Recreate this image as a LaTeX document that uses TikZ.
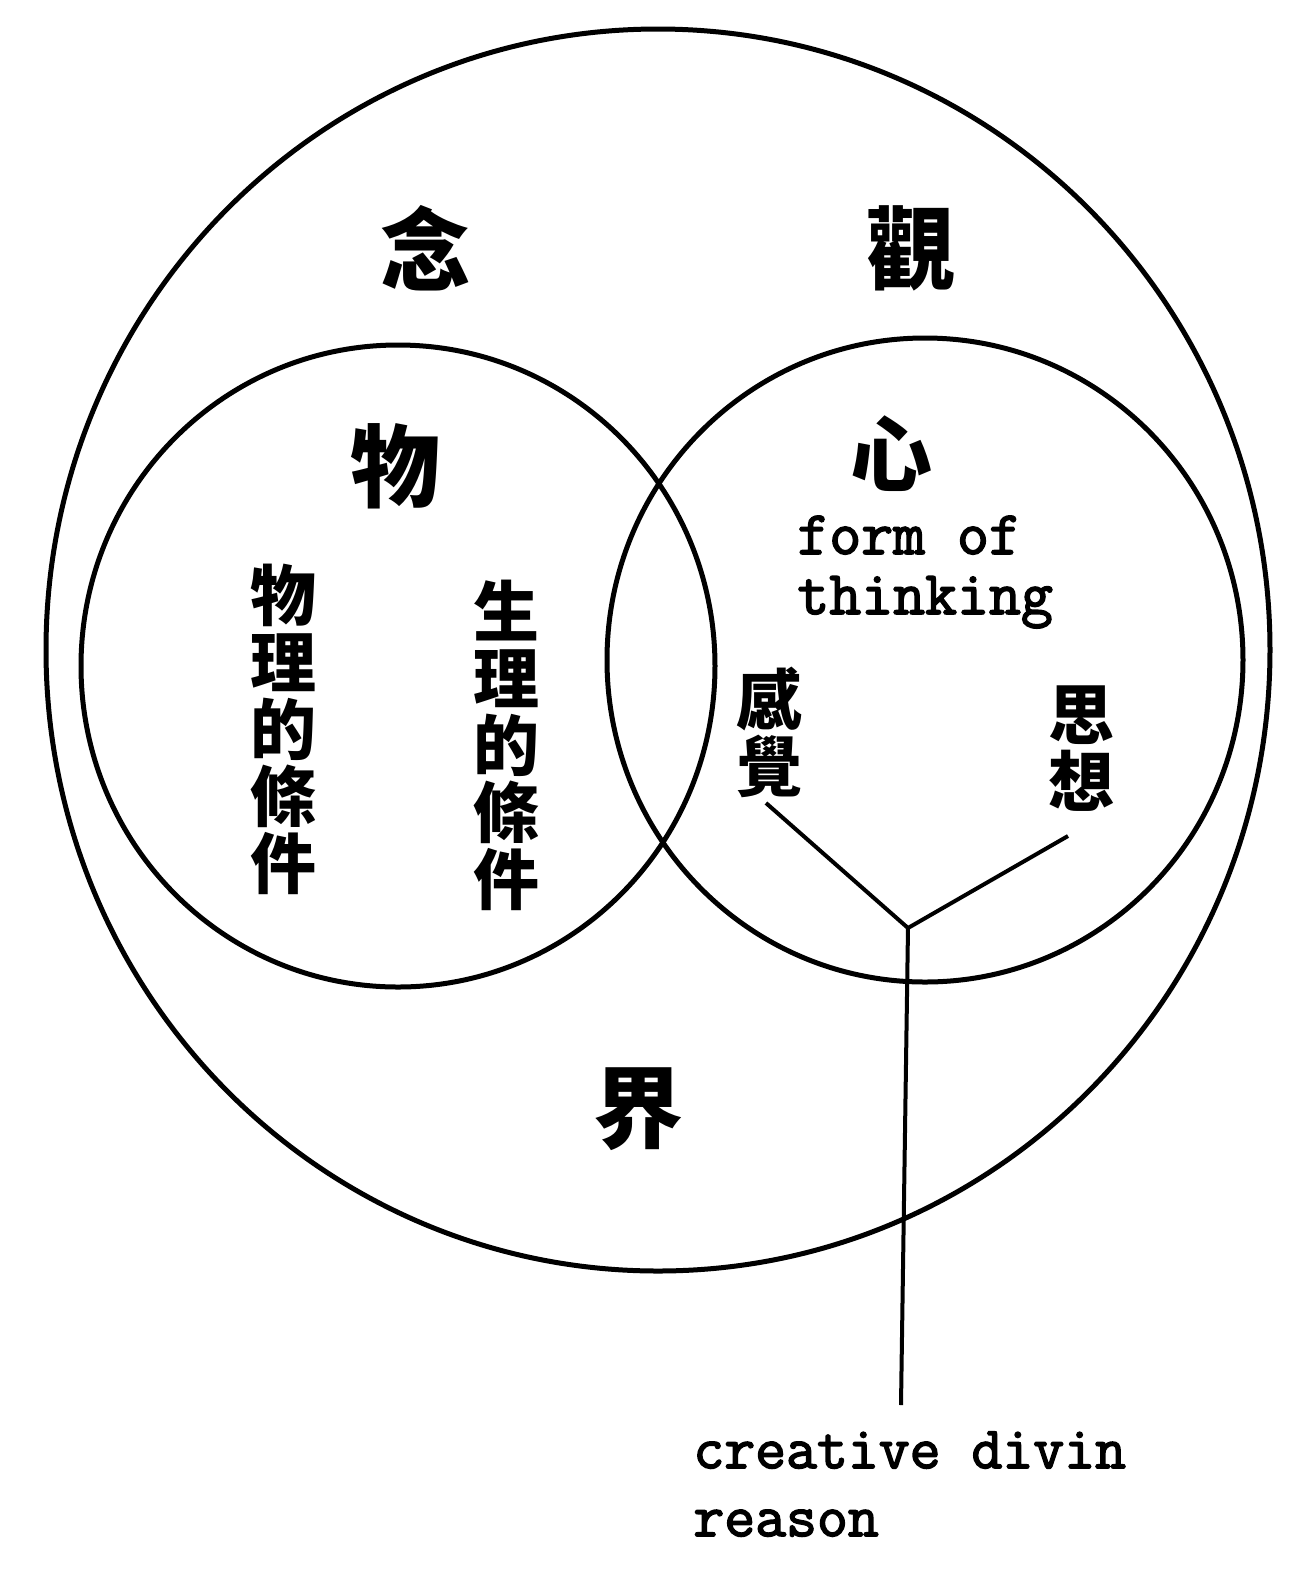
\documentclass[tikz,border=0pt]{standalone}
\usepackage{fontspec}
\newfontfamily\typefont{Latin Modern Mono}[FakeBold=2.5]
\newfontfamily\cjk{Noto Sans CJK TC}
\usetikzlibrary{positioning}

\begin{document}
\begin{tikzpicture}[
    x=0.5pt, y=-0.5pt,
    ring/.style={draw=black, line width=2.5pt},
    link/.style={draw=black, line width=2pt},
    bigchar/.style={inner sep=0pt, font=\cjk\bfseries\fontsize{45}{45}\selectfont},
    colchar/.style={inner sep=0pt, align=center, font=\cjk\bfseries\fontsize{33}{33.5}\selectfont},
    engtext/.style={inner sep=0pt, align=left, anchor=west, font=\typefont\fontsize{31}{30}\selectfont}
]
\useasboundingbox (0,0) rectangle (1305,1587);

% Circles
\draw[ring] (658,650) ellipse [x radius=612, y radius=621];
\draw[ring] (398,666) ellipse [x radius=317, y radius=321];
\draw[ring] (925,660) ellipse [x radius=318, y radius=322];

% Outer labels
\node[bigchar] (nen) at (425,248) {念};
\node[bigchar] (kan) at (911,248) {觀};
\node[bigchar] (kai) at (638,1109) {界};

% Left circle
\node[bigchar] (mono) at (395,466) {物};
\node[colchar] (butsuri) at (283,729) {物\\理\\的\\條\\件};
\node[colchar] (seiri) at (506,745) {生\\理\\的\\條\\件};

% Right circle
\node[bigchar, font=\cjk\bfseries\fontsize{41}{41}\selectfont] (shin) at (891,454) {心};
\node[engtext] (form) at (797,572) {form of\\thinking};
\node[colchar] (kankaku) at (769,732) {感\\覺};
\node[colchar] (shisou) at (1081,749) {思\\想};

% Branches
\coordinate (kakuEnd) at (766,803);
\coordinate (souEnd) at (1068,836);
\coordinate (junction) at (908,928);
\coordinate (stemEnd) at (901,1405);
\draw[link] (kakuEnd) -- (junction);
\draw[link] (souEnd) -- (junction);
\draw[link] (junction) -- (stemEnd);

\node[engtext, font=\typefont\fontsize{30}{34}\selectfont] (reason) at (693,1484) {creative divin\\reason};

\end{tikzpicture}
\end{document}
